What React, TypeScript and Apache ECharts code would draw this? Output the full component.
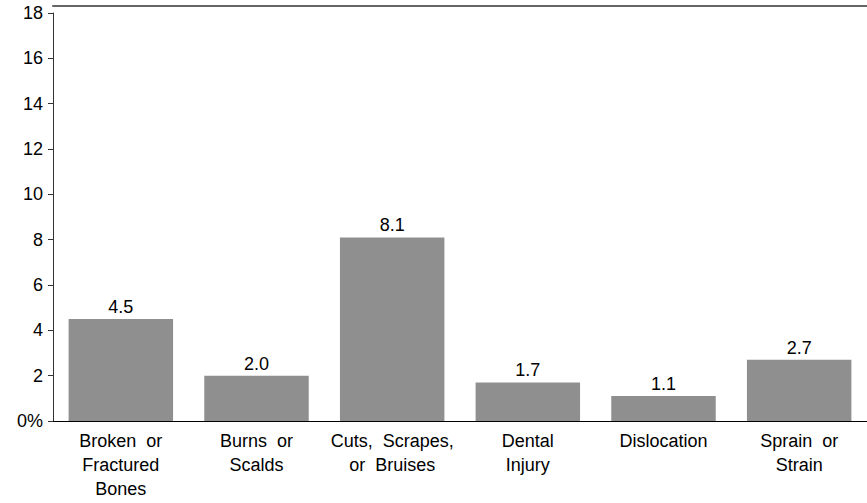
import React, { useEffect, useRef } from "react";
import * as echarts from "echarts";

const categories = [
  "Broken  or\nFractured\nBones",
  "Burns  or\nScalds",
  "Cuts,  Scrapes,\nor  Bruises",
  "Dental\nInjury",
  "Dislocation",
  "Sprain  or\nStrain",
];
const values = [4.5, 2.0, 8.1, 1.7, 1.1, 2.7];
const yMin = 0;
const yMax = 18;
const yInterval = 2;

const FONT = "Liberation Sans";

export default function App() {
  const ref = useRef<HTMLDivElement>(null);
  useEffect(() => {
    document.body.style.margin = "0";
    const chart = echarts.init(ref.current!, null, { renderer: "svg" });
    chart.setOption({
      animation: false,
      backgroundColor: "#ffffff",
      grid: { left: 53, right: 0, top: 13, bottom: 82, containLabel: false },
      xAxis: [
        {
          type: "category",
          data: categories,
          axisLine: { show: true, lineStyle: { color: "#000", width: 1 } },
          axisTick: { show: false },
          axisLabel: {
            color: "#000",
            fontFamily: FONT,
            fontSize: 18,
            lineHeight: 24,
            margin: 8,
            interval: 0,
          },
        },
        {
          type: "category",
          data: categories,
          position: "top",
          offset: 7,
          axisLine: { show: true, lineStyle: { color: "#666", width: 2 } },
          axisTick: { show: false },
          axisLabel: { show: false },
        },
      ],
      yAxis: {
        type: "value",
        min: yMin,
        max: yMax,
        interval: yInterval,
        splitLine: { show: false },
        axisLine: { show: true, lineStyle: { color: "#333", width: 1 } },
        axisTick: { show: true, length: 5, lineStyle: { color: "#333" } },
        axisLabel: {
          color: "#000",
          fontFamily: FONT,
          fontSize: 18,
          margin: 10,
          formatter: (v: number) => (v === 0 ? "0%" : String(v)),
        },
      },
      series: [
        {
          type: "bar",
          data: values,
          xAxisIndex: 0,
          barCategoryGap: "23%",
          itemStyle: { color: "#8f8f8f" },
          label: {
            show: true,
            position: "top",
            distance: 3,
            color: "#000",
            fontFamily: FONT,
            fontSize: 18,
            formatter: (p: any) => Number(p.value).toFixed(1),
          },
        },
      ],
    });
    return () => chart.dispose();
  }, []);
  return <div ref={ref} style={{ width: 867, height: 503 }} />;
}
